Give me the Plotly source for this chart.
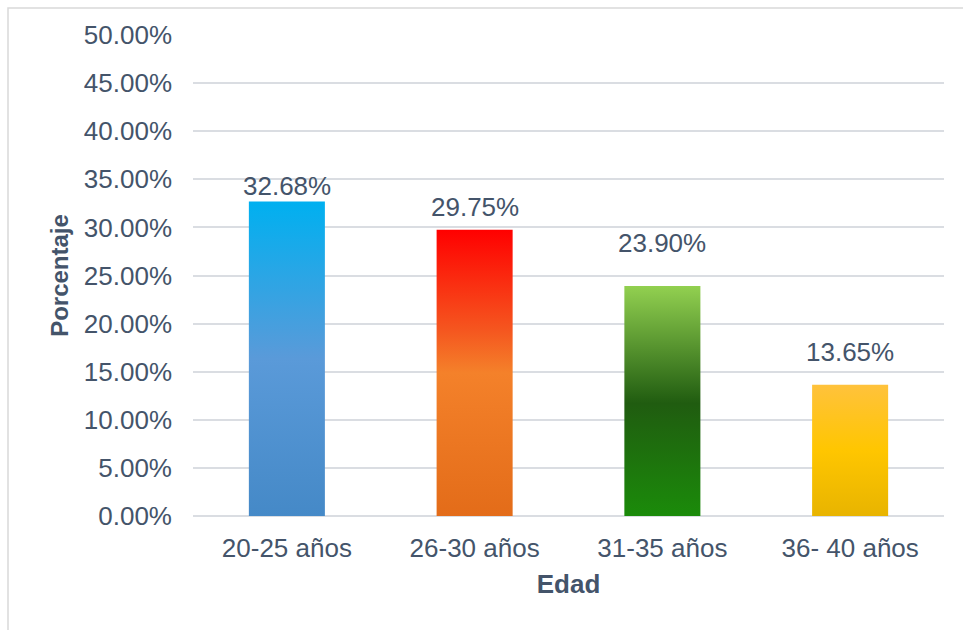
import plotly.graph_objects as go

# ---- data ----
categories = ["20-25 años", "26-30 años", "31-35 años", "36- 40 años"]
values = [0.3268, 0.2975, 0.2390, 0.1365]
y_ticks = [0.0, 0.05, 0.10, 0.15, 0.20, 0.25, 0.30, 0.35, 0.40, 0.45, 0.50]

# ---- styling ----
gradients = [
    [[0, "#4589C7"], [0.5, "#5A9AD9"], [1, "#00B0F0"]],
    [[0, "#E36C19"], [0.5, "#F4812A"], [0.65, "#F5561F"], [1, "#FF0000"]],
    [[0, "#1B8B0A"], [0.49, "#205C10"], [1, "#92D050"]],
    [[0, "#E8B400"], [0.5, "#FFC600"], [1, "#FFC23C"]],
]
label_shift = [16, 23, 43, 33]  # px from bar top to label centre
half_w = 0.2025
txt = "#44546A"
font = "Liberation Sans, Arial, sans-serif"

fig = go.Figure()
for i, (v, cs) in enumerate(zip(values, gradients)):
    fig.add_trace(go.Scatter(
        x=[i - half_w, i + half_w, i + half_w, i - half_w, i - half_w],
        y=[0, 0, v, v, 0],
        mode="none",
        fill="toself",
        fillgradient=dict(type="vertical", colorscale=cs, start=0, stop=v),
        hoverinfo="skip",
        showlegend=False,
    ))
    fig.add_annotation(
        x=i, y=v, xref="x", yref="y",
        text=f"{v*100:.2f}%",
        showarrow=False, yanchor="middle", yshift=label_shift[i],
        font=dict(size=26, color=txt, family=font),
    )

L, R, T, B = 193, 19, 35, 114
W, H = 963, 630
pw, ph = W - L - R, H - T - B
fig.add_shape(
    type="rect", xref="paper", yref="paper",
    x0=(8 - L) / pw, x1=(W + 10 - L) / pw,
    y0=-(H + 10 - T - ph) / ph, y1=1 + (T - 8) / ph,
    line=dict(color="#D9D9D9", width=1.5), fillcolor="rgba(0,0,0,0)",
    layer="below",
)

fig.update_layout(
    width=W, height=H,
    margin=dict(l=L, r=R, t=T, b=B),
    paper_bgcolor="white", plot_bgcolor="white",
    font=dict(family=font, color=txt, size=26),
    showlegend=False,
    xaxis=dict(
        range=[-0.5, 3.5],
        tickmode="array", tickvals=list(range(len(categories))), ticktext=categories,
        showgrid=False, zeroline=False, showline=False,
        ticks="", ticklabelstandoff=14, tickfont=dict(size=26, color=txt),
        title=dict(text="<b>Edad</b>", font=dict(size=26, color=txt), standoff=12),
        fixedrange=True,
    ),
    yaxis=dict(
        range=[0, 0.5],
        tickmode="array", tickvals=y_ticks, tickformat=".2%",
        showgrid=True, gridcolor="#DADDE2", gridwidth=1.5,
        zeroline=True, zerolinecolor="#DADDE2", zerolinewidth=1.5,
        showline=False, ticks="", ticklabelstandoff=20,
        tickfont=dict(size=26, color=txt),
        title=dict(text="<b>Porcentaje</b>", font=dict(size=24, color=txt), standoff=8),
        fixedrange=True,
    ),
)

fig.write_html("out.html")
